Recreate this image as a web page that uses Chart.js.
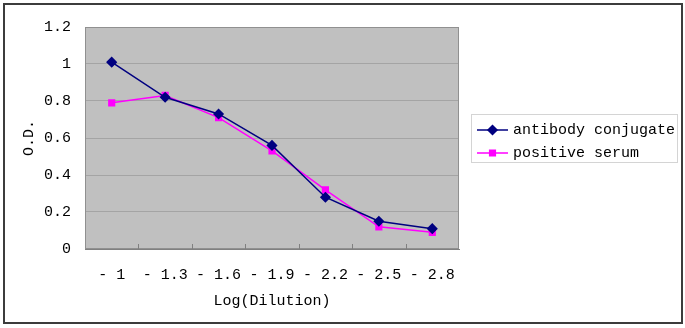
<!DOCTYPE html>
<html>
<head>
<meta charset="utf-8">
<script src="https://cdn.jsdelivr.net/npm/chart.js@4/dist/chart.umd.min.js"></script>
<style>
    html, body { margin: 0; padding: 0; background: #fff; }
    #wrap { position: relative; width: 685px; height: 328px; }
</style>
</head>
<body>
<div id="wrap"><canvas id="chart" width="685" height="328"></canvas></div>
<script>
var dilutions = ['- 1', '- 1.3', '- 1.6', '- 1.9', '- 2.2', '- 2.5', '- 2.8'];
var antibodyConjugate = [1.01, 0.82, 0.73, 0.56, 0.28, 0.15, 0.11];
var positiveSerum = [0.79, 0.83, 0.71, 0.53, 0.32, 0.12, 0.09];
var odTicks = [0, 0.2, 0.4, 0.6, 0.8, 1, 1.2];

var FONT = '"Liberation Mono", "DejaVu Sans Mono", monospace';
var FONT_SIZE = 15;

// excel-ish plot area: grey fill, outline, page frame, little ticks between categories
var framePlugin = {
    id: 'frame',
    beforeDraw: function (chart) {
        var ctx = chart.ctx;
        var area = chart.chartArea;
        ctx.save();
        ctx.fillStyle = '#fff';
        ctx.fillRect(0, 0, chart.width, chart.height);
        ctx.strokeStyle = '#3c3c3c';
        ctx.lineWidth = 2;
        ctx.strokeRect(4, 4, 678, 319);
        ctx.fillStyle = '#c0c0c0';
        ctx.fillRect(area.left, area.top, area.right - area.left, area.bottom - area.top);
        ctx.restore();
    },
    beforeDatasetsDraw: function (chart) {
        var ctx = chart.ctx;
        var area = chart.chartArea;
        var x = chart.scales.x;
        var half = (x.getPixelForValue(1) - x.getPixelForValue(0)) / 2;
        ctx.save();
        ctx.strokeStyle = '#909090';
        ctx.lineWidth = 1;
        ctx.strokeRect(area.left + 0.5, area.top + 0.5, area.right - area.left - 1, area.bottom - area.top - 1);
        ctx.strokeStyle = '#808080';
        ctx.beginPath();
        for (var i = 1; i < dilutions.length; i++) {
            var px = Math.round(x.getPixelForValue(i) - half) + 0.5;
            ctx.moveTo(px, area.bottom);
            ctx.lineTo(px, area.bottom - 5);
        }
        ctx.stroke();
        ctx.restore();
    }
};

// boxed legend with line + marker samples
var legendBox = {left: 471, top: 114, width: 206, height: 48, lineFrom: 477, lineTo: 508, textX: 513, rows: [130, 153]};

var legendPlugin = {
    id: 'boxLegend',
    afterDraw: function (chart) {
        var ctx = chart.ctx;
        ctx.save();
        ctx.strokeStyle = '#d4d4d4';
        ctx.lineWidth = 1;
        ctx.strokeRect(legendBox.left + 0.5, legendBox.top + 0.5, legendBox.width, legendBox.height);
        chart.data.datasets.forEach(function (ds, i) {
            var y = legendBox.rows[i];
            ctx.strokeStyle = ds.borderColor;
            ctx.lineWidth = ds.borderWidth;
            ctx.beginPath();
            ctx.moveTo(legendBox.lineFrom, y);
            ctx.lineTo(legendBox.lineTo, y);
            ctx.stroke();
            ctx.fillStyle = ds.pointBackgroundColor;
            ctx.strokeStyle = ds.pointBorderColor;
            Chart.helpers.drawPoint(ctx, {
                pointStyle: ds.pointStyle,
                radius: ds.pointRadius,
                rotation: 0,
                borderWidth: 1
            }, (legendBox.lineFrom + legendBox.lineTo) / 2, y);
            ctx.fillStyle = '#000';
            ctx.font = FONT_SIZE + 'px ' + FONT;
            ctx.textBaseline = 'middle';
            ctx.textAlign = 'left';
            ctx.fillText(ds.label, legendBox.textX, y);
        });
        ctx.restore();
    }
};

var font = {family: FONT, size: FONT_SIZE};

new Chart(document.getElementById('chart'), {
    type: 'line',
    data: {
        labels: dilutions,
        datasets: [
            {
                label: 'antibody conjugate',
                data: antibodyConjugate,
                borderColor: '#000080',
                borderWidth: 1.5,
                pointStyle: 'rectRot',
                pointRadius: 4.5,
                pointBackgroundColor: '#000080',
                pointBorderColor: '#000080',
                tension: 0
            },
            {
                label: 'positive serum',
                data: positiveSerum,
                borderColor: '#ff00ff',
                borderWidth: 1.5,
                pointStyle: 'rect',
                pointRadius: 4,
                pointBackgroundColor: '#ff00ff',
                pointBorderColor: '#ff00ff',
                tension: 0
            }
        ]
    },
    options: {
        responsive: false,
        animation: false,
        events: [],
        layout: {padding: {left: 0, top: 27, right: 226, bottom: 18}},
        plugins: {
            legend: {display: false},
            tooltip: {enabled: false}
        },
        scales: {
            x: {
                type: 'category',
                offset: true,
                grid: {display: false, drawTicks: false},
                border: {color: '#808080', width: 1},
                ticks: {color: '#000', font: font, padding: 17, maxRotation: 0, autoSkip: false},
                title: {display: true, text: 'Log(Dilution)', color: '#000', font: font, padding: {top: 0, bottom: 0}},
                afterFit: function (scale) { scale.height = 61; }
            },
            y: {
                min: 0,
                max: 1.2,
                grid: {color: '#a4a4a4', drawTicks: false},
                border: {color: '#808080', width: 1},
                ticks: {
                    color: '#000',
                    font: font,
                    padding: 14,
                    callback: function (value) { return String(value); }
                },
                afterBuildTicks: function (scale) {
                    scale.ticks = odTicks.map(function (v) { return {value: v}; });
                },
                title: {display: true, text: 'O.D.', color: '#000', font: font, padding: {top: 20, bottom: 0}},
                afterFit: function (scale) { scale.width = 85; }
            }
        }
    },
    plugins: [framePlugin, legendPlugin]
});
</script>
</body>
</html>
